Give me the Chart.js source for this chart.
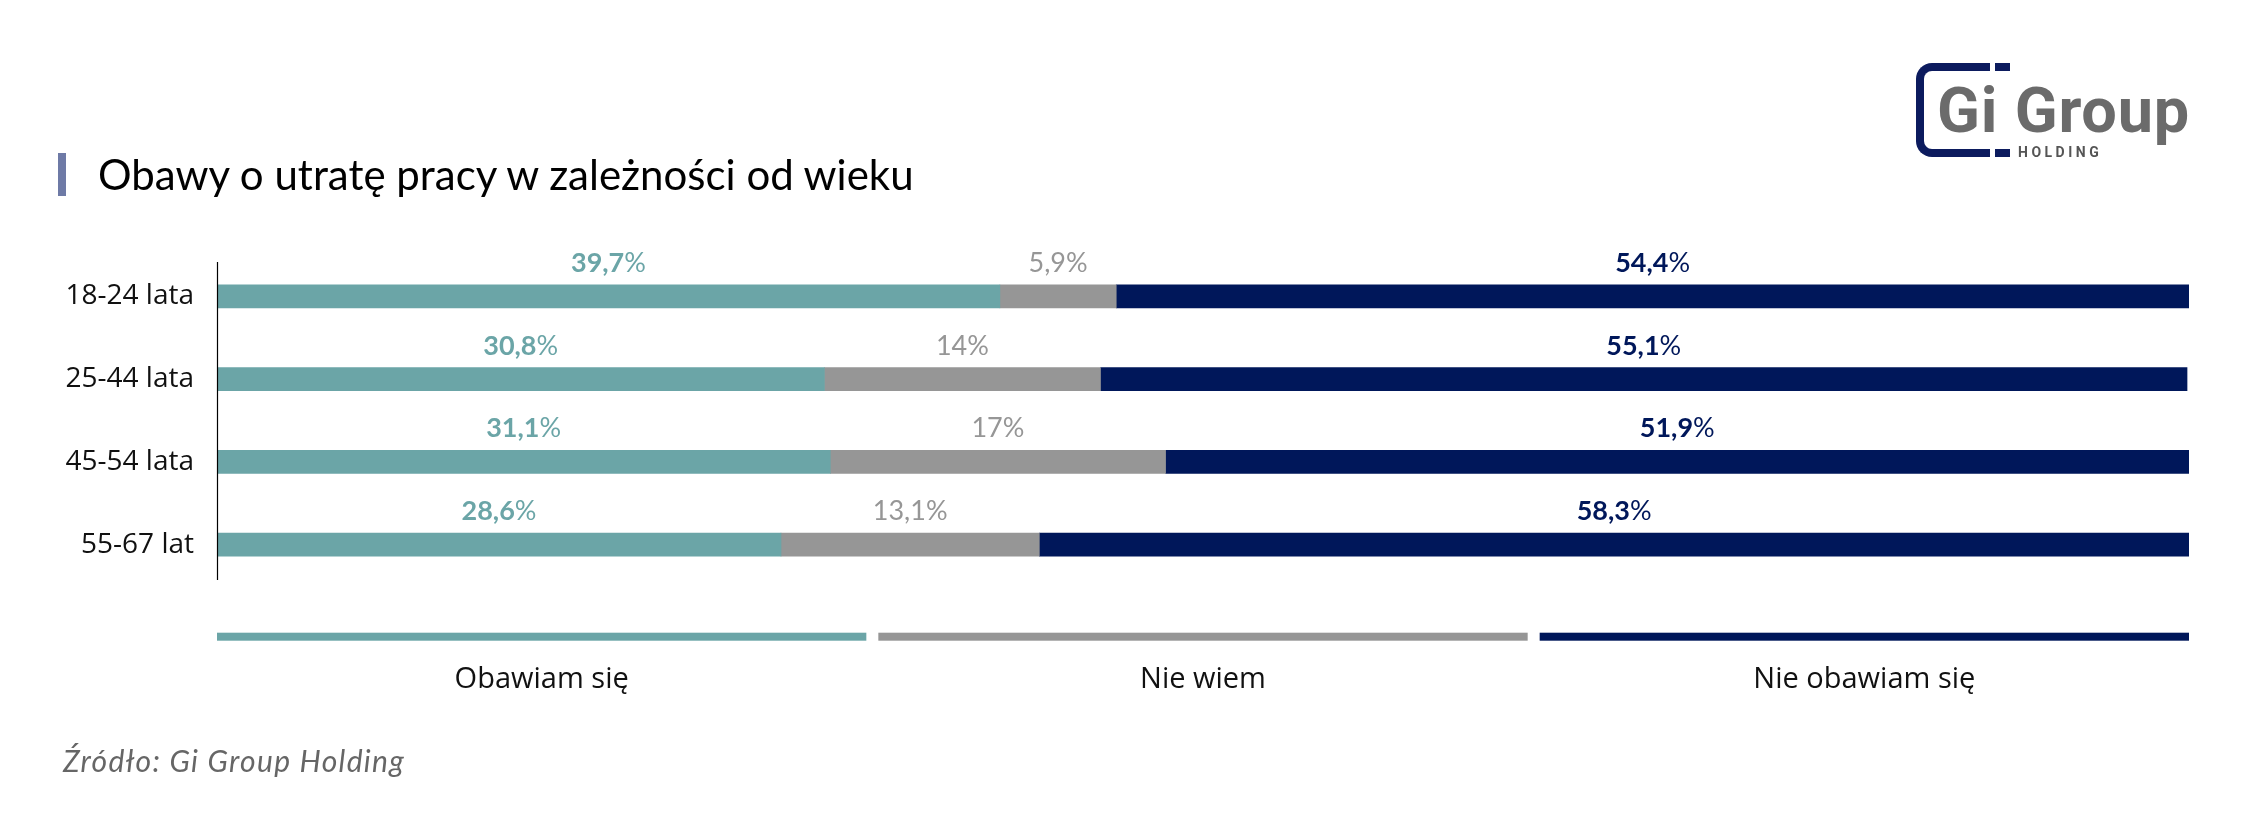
<!DOCTYPE html>
<html><head><meta charset="utf-8">
<script src="https://cdn.jsdelivr.net/npm/chart.js@4.4.1/dist/chart.umd.min.js"></script>
<style>
html,body{margin:0;padding:0;background:#fff;}
body{width:2251px;height:840px;position:relative;overflow:hidden;}
#c{position:absolute;left:0;top:0;}
.t{position:absolute;white-space:nowrap;line-height:1;}
</style></head><body>
<canvas id="c" width="2251" height="840"></canvas>
<div style="position:absolute;left:58px;top:153px;width:8px;height:43px;background:#6E7AA6"></div>
<div class="t" style="left:98px;top:153px;font-family:Lato;font-size:42px;color:#000">Obawy o utratę pracy w zależności od wieku</div>
<div class="t" style="left:63px;top:745px;font-family:Lato;font-style:italic;font-size:30px;letter-spacing:1.3px;color:#666">Źródło: Gi Group Holding</div>
<div style="position:absolute;left:1916px;top:63px;width:86px;height:78px;border:8px solid #0C1B5E;border-right:none;border-radius:16px 0 0 16px"></div>
<div style="position:absolute;left:1990px;top:62px;width:30px;height:100px;background:#fff"></div>
<div style="position:absolute;left:1995px;top:63px;width:15px;height:8px;background:#0C1B5E"></div>
<div style="position:absolute;left:1995px;top:149px;width:15px;height:8px;background:#0C1B5E"></div>
<div class="t" style="left:1937px;top:79px;font-family:Roboto;font-weight:700;font-size:63px;letter-spacing:0.8px;color:#6B6B6B">Gi Group</div>
<div class="t" style="left:2018px;top:145px;font-family:Roboto;font-weight:700;font-size:14px;letter-spacing:3.5px;color:#555">HOLDING</div>
<script>
const categories = ['18-24 lata', '25-44 lata', '45-54 lata', '55-67 lat'];
const seriesNames = ['Obawiam się', 'Nie wiem', 'Nie obawiam się'];
const obawiamSie = [39.7, 30.8, 31.1, 28.6];
const nieWiem = [5.9, 14, 17, 13.1];
const nieObawiamSie = [54.4, 55.1, 51.9, 58.3];
const seriesColors = ['#6BA5A7', '#969696', '#00175A'];
const boldNumbers = [true, false, true];

const fmt = v => String(v).replace('.', ',');

const labelPlugin = {
  id: 'segLabels',
  afterDatasetsDraw(chart) {
    const ctx = chart.ctx;
    ctx.save();
    ctx.textBaseline = 'alphabetic';
    ctx.textAlign = 'left';
    chart.data.datasets.forEach((ds, i) => {
      const meta = chart.getDatasetMeta(i);
      meta.data.forEach((el, j) => {
        const p = el.getProps(['x', 'base', 'y'], true);
        const cx = (p.x + p.base) / 2;
        const by = p.y - 24.5;
        const num = fmt(ds.data[j]);
        const nFont = (boldNumbers[i] ? 'bold ' : '') + '27px Lato';
        const pFont = '27px Lato';
        ctx.font = nFont; const w1 = ctx.measureText(num).width;
        ctx.font = pFont; const w2 = ctx.measureText('%').width;
        let x0 = cx - (w1 + w2) / 2;
        ctx.fillStyle = ds.backgroundColor;
        ctx.font = nFont; ctx.fillText(num, x0, by);
        ctx.font = pFont; ctx.fillText('%', x0 + w1, by);
      });
    });
    // y axis line
    const a = chart.chartArea;
    ctx.strokeStyle = '#000';
    ctx.lineWidth = 1.2;
    ctx.beginPath();
    ctx.moveTo(a.left + 0.5, a.top + 7);
    ctx.lineTo(a.left + 0.5, a.bottom - 6);
    ctx.stroke();
    // legend
    const gap = 12;
    const segW = (a.right - a.left - 2 * gap) / 3;
    const ly = a.bottom + 50.7;
    chart.data.datasets.forEach((ds, i) => {
      const x0 = a.left + i * (segW + gap);
      ctx.fillStyle = ds.backgroundColor;
      ctx.fillRect(x0, ly - 4, segW, 8);
      ctx.fillStyle = '#111';
      ctx.font = '29px "Open Sans"';
      ctx.textAlign = 'center';
      ctx.fillText(ds.label, x0 + segW / 2, a.bottom + 102);
    });
    ctx.restore();
  }
};

new Chart(document.getElementById('c'), {
  type: 'bar',
  data: {
    labels: categories,
    datasets: [
      { label: seriesNames[0], data: obawiamSie, backgroundColor: seriesColors[0] },
      { label: seriesNames[1], data: nieWiem, backgroundColor: seriesColors[1] },
      { label: seriesNames[2], data: nieObawiamSie, backgroundColor: seriesColors[2] }
    ]
  },
  options: {
    indexAxis: 'y',
    responsive: false,
    animation: false,
    layout: { padding: { top: 255, bottom: 254, right: 62, left: 0 } },
    datasets: { bar: { barThickness: 23, borderWidth: 0 } },
    plugins: { legend: { display: false }, tooltip: { enabled: false }, title: { display: false } },
    scales: {
      x: { stacked: true, min: 0, max: 100, display: false },
      y: {
        stacked: true,
        grid: { display: false, drawTicks: false },
        border: { display: false },
        ticks: { font: { family: 'Open Sans', size: 28 }, color: '#111', padding: 23 },
        afterFit(scale) { scale.width = 217; }
      }
    }
  },
  plugins: [labelPlugin]
});
</script>
</body></html>
